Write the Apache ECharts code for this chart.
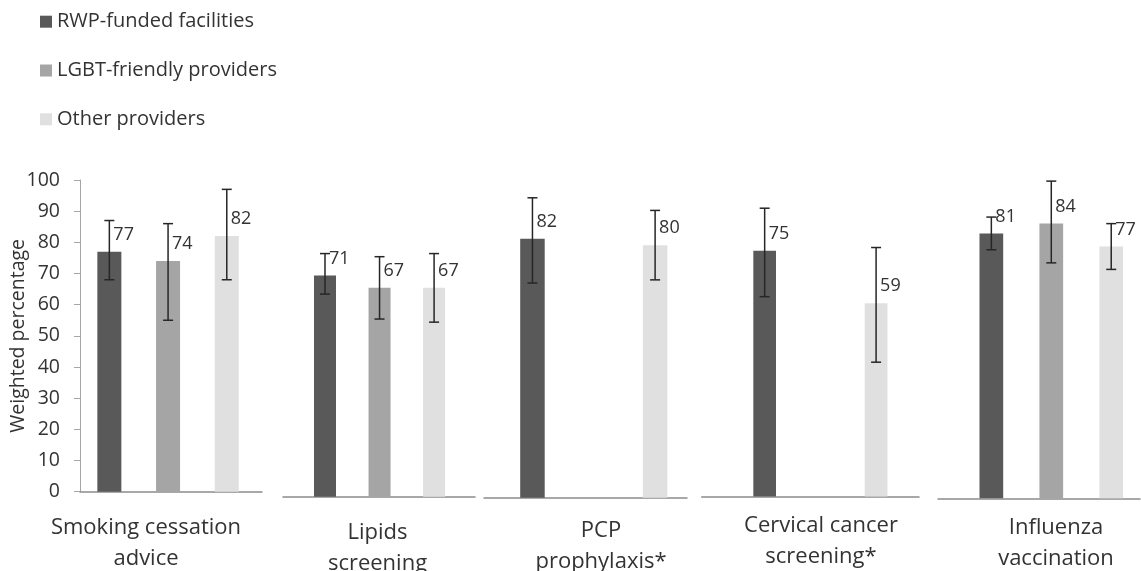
<!DOCTYPE html>
<html>
<head>
<meta charset="utf-8">
<script src="https://cdn.jsdelivr.net/npm/echarts@6/dist/echarts.min.js"></script>
<style>html,body{margin:0;padding:0;background:#fff;}#chart{width:1141px;height:571px;}</style>
</head>
<body>
<div id="chart"></div>
<script>
// ---- data ----
const categories = ['Smoking cessation\nadvice', 'Lipids\nscreening', 'PCP\nprophylaxis*', 'Cervical cancer\nscreening*', 'Influenza\nvaccination'];
const seriesNames = ['RWP-funded facilities', 'LGBT-friendly providers', 'Other providers'];
const rwp   = [77, 71, 82, 75, 81];
const lgbt  = [74, 67, null, null, 84];
const other = [82, 67, 80, 59, 77];
const rwpLow    = [68, 65, 68, 61, 76];
const rwpHigh   = [87, 78, 95, 88, 86];
const lgbtLow   = [55, 57, null, null, 72];
const lgbtHigh  = [86, 77, null, null, 97];
const otherLow  = [68, 56, 69, 41, 70];
const otherHigh = [97, 78, 91, 76, 84];
const yTicks = [0, 10, 20, 30, 40, 50, 60, 70, 80, 90, 100];

// ---- layout ----
const FONT = 'Open Sans';
const TEXT = '#333333';
const colors = ['#595959', '#a5a5a5', '#e0e0e0'];
const panelLayout = [
  {left: 80,    width: 182,   top: 180,   height: 311.7, xmin: -0.5,  xmax: 2.6,  barW: 24,   labelX: 146,  labelTop: 512.5},
  {left: 283,   width: 192,   top: 185,   height: 311.7, xmin: -0.77, xmax: 2.75, barW: 22,   labelX: 377.5,labelTop: 517.5},
  {left: 484,   width: 203,   top: 182,   height: 315.7, xmin: -0.79, xmax: 2.52, barW: 24.5, labelX: 601,  labelTop: 515.5},
  {left: 701.7, width: 217.3, top: 168.9, height: 327.6, xmin: -1.13, xmax: 2.77, barW: 22.7, labelX: 821,  labelTop: 510.5},
  {left: 938,   width: 202,   top: 171.3, height: 327,   xmin: -0.89, xmax: 2.48, barW: 23.7, labelX: 1056, labelTop: 512.5}
];

const values = [rwp, lgbt, other];
const lows = [rwpLow, lgbtLow, otherLow];
const highs = [rwpHigh, lgbtHigh, otherHigh];

const grid = [], xAxis = [], yAxis = [], series = [], title = [];
panelLayout.forEach((p, i) => {
  grid.push({left: p.left, top: p.top, width: p.width, height: p.height, containLabel: false});
  xAxis.push({
    type: 'value', gridIndex: i, min: p.xmin, max: p.xmax,
    axisLine: {show: true, onZero: false, lineStyle: {color: '#8c8c8c', width: 1.5}},
    axisTick: {show: false}, axisLabel: {show: false}, splitLine: {show: false}
  });
  const first = i === 0;
  yAxis.push({
    type: 'value', gridIndex: i, min: yTicks[0], max: yTicks[yTicks.length - 1], interval: yTicks[1] - yTicks[0],
    axisLine: {show: first, onZero: false, lineStyle: {color: '#a6a6a6', width: 1}},
    axisTick: {show: first, length: 6, lineStyle: {color: '#a6a6a6'}},
    axisLabel: {show: first, margin: 20, fontSize: 19.5, fontFamily: FONT, color: TEXT},
    splitLine: {show: false},
    name: first ? 'Weighted percentage' : '',
    nameLocation: 'middle', nameGap: 52, nameMoveOverlap: false,
    nameTextStyle: {fontSize: 19.5, fontFamily: FONT, color: TEXT}
  });
  const errData = [];
  values.forEach((arr, k) => {
    if (arr[i] == null) return;
    series.push({
      type: 'bar', name: seriesNames[k], xAxisIndex: i, yAxisIndex: i,
      barWidth: p.barW, barGap: '-100%',
      itemStyle: {color: colors[k]},
      data: [[k, arr[i]]],
      label: {
        show: true, position: 'top', distance: 0, align: 'left', verticalAlign: 'middle',
        offset: [4, -17], fontSize: 18, fontFamily: FONT, color: TEXT,
        formatter: (d) => String(d.value[1])
      },
      z: 2
    });
    errData.push([k, lows[k][i], highs[k][i]]);
  });
  series.push({
    type: 'custom', xAxisIndex: i, yAxisIndex: i, z: 5,
    encode: {x: 0, y: [1, 2]},
    data: errData,
    renderItem: (params, api) => {
      const x = api.value(0);
      const hi = api.coord([x, api.value(2)]);
      const lo = api.coord([x, api.value(1)]);
      const w = 5;
      const st = {stroke: '#262626', lineWidth: 1.5};
      return {type: 'group', children: [
        {type: 'line', shape: {x1: hi[0], y1: hi[1], x2: lo[0], y2: lo[1]}, style: st},
        {type: 'line', shape: {x1: hi[0] - w, y1: hi[1], x2: hi[0] + w, y2: hi[1]}, style: st},
        {type: 'line', shape: {x1: lo[0] - w, y1: lo[1], x2: lo[0] + w, y2: lo[1]}, style: st}
      ]};
    }
  });
  title.push({
    text: categories[i], left: p.labelX, top: p.labelTop, textAlign: 'center', padding: 0,
    textStyle: {fontSize: 22, fontWeight: 'normal', fontFamily: FONT, color: TEXT, lineHeight: 31}
  });
});

const chart = echarts.init(document.getElementById('chart'), null, {renderer: 'canvas'});
chart.setOption({
  animation: false,
  backgroundColor: '#fff',
  title,
  legend: {
    data: seriesNames, orient: 'vertical', left: 40, top: 11.7, padding: 0,
    icon: 'rect', itemWidth: 12, itemHeight: 12, itemGap: 28.8,
    textStyle: {fontSize: 20, lineHeight: 20, fontFamily: FONT, color: TEXT}
  },
  grid, xAxis, yAxis, series
});
</script>
</body>
</html>
